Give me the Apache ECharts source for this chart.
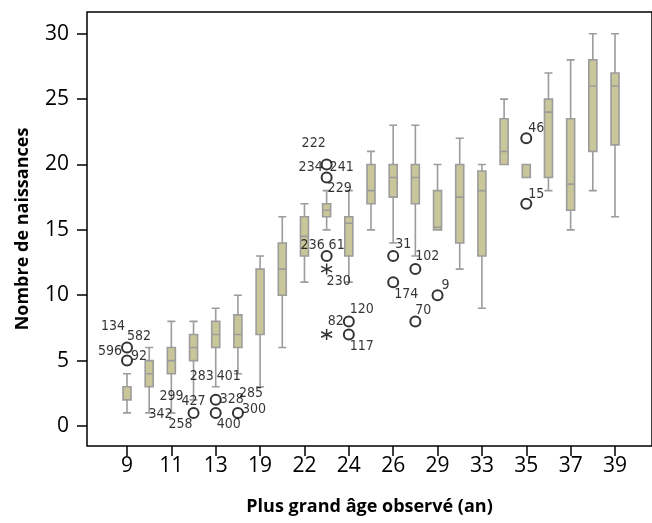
<!DOCTYPE html>
<html>
<head>
<meta charset="utf-8">
<script src="https://cdn.jsdelivr.net/npm/echarts@6/dist/echarts.min.js"></script>
<style>html,body{margin:0;padding:0;background:#fff}#c{width:652px;height:523px}</style>
</head>
<body>
<div id="c"></div>
<script>
// Categories: highest observed age (years)
var categories = ['9','10','11','12','13','14','19','20','22','23','24','25','26','27','29','30','33','34','35','36','37','38','39'];
// Box statistics: [min, Q1, median, Q3, max]
var boxData = [
  [1, 2, 2, 3, 4],
  [1, 3, 4, 5, 6],
  [1, 4, 5, 6, 8],
  [2, 5, 6, 7, 8],
  [3, 6, 7, 8, 9],
  [4, 6, 7, 8.5, 10],
  [3, 7, 7, 12, 13],
  [6, 10, 12, 14, 16],
  [11, 13, 14.5, 16, 17],
  [15, 16, 16.5, 17, 18],
  [11, 13, 15.5, 16, 18],
  [15, 17, 18, 20, 21],
  [14, 17.5, 19, 20, 23],
  [13, 17, 19, 20, 23],
  [15, 15, 15.2, 18, 20],
  [12, 14, 17.5, 20, 22],
  [9, 13, 18, 19.5, 20],
  [20, 20, 21, 23.5, 25],
  [19, 19, 20, 20, 20],
  [18, 19, 24, 25, 27],
  [15, 16.5, 18.5, 23.5, 28],
  [18, 21, 26, 28, 30],
  [16, 21.5, 26, 27, 30]
];
// Outliers drawn as circles: [category index, value]
var outlierCircles = [
  [0, 6], [0, 5], [3, 1], [4, 2], [4, 1], [5, 1],
  [9, 20], [9, 19], [9, 13], [10, 8], [10, 7],
  [12, 13], [12, 11], [13, 12], [13, 8], [14, 10],
  [18, 22], [18, 17]
];
// Extreme values drawn as asterisks: [category index, value]
var extremeStars = [[9, 12], [9, 7]];
// Case labels: [category index, value, case id]
var caseLabels = [
  [0, 6, '134'], [0, 6, '582'], [0, 6, '596'], [0, 5, '92'],
  [3, 1, '342'], [3, 1, '299'], [3, 1, '258'], [3, 1, '427'],
  [4, 2, '283'], [4, 2, '401'], [4, 2, '328'], [4, 1, '400'],
  [5, 1, '285'], [5, 1, '300'],
  [9, 20, '222'], [9, 20, '234'], [9, 20, '241'], [9, 19, '229'],
  [9, 13, '236'], [9, 13, '61'], [9, 12, '230'],
  [10, 8, '82'], [10, 8, '120'], [10, 7, '117'],
  [12, 13, '31'], [12, 11, '174'], [13, 12, '102'], [13, 8, '70'],
  [14, 10, '9'], [18, 22, '46'], [18, 17, '15']
];
var yTicks = [0, 5, 10, 15, 20, 25, 30];

// label placement (pixel offsets of label centre from the marker)
var labelOffsets = {
  '134': [-14, -21], '582': [12, -11], '596': [-17, 4], '92': [12, -4],
  '342': [-33, 1], '299': [-22, -17], '258': [-13, 11], '427': [0, -12],
  '283': [-14, -23], '401': [13, -23], '328': [16, 0], '400': [13, 11],
  '285': [13, -20], '300': [16, -4],
  '222': [-13, -21], '234': [-16, 3], '241': [15, 3], '229': [13, 11],
  '236': [-14, -11], '61': [10, -11], '230': [12, 12],
  '82': [-13, 0], '120': [13, -12], '117': [13, 12],
  '31': [10, -12], '174': [13, 12], '102': [12, -13], '70': [8, -11],
  '9': [8, -10], '46': [10, -10], '15': [10, -9]
};

var Y_MIN = -1.53, Y_MAX = 31.66;
var GRID_TOP = 12, GRID_BOTTOM = 77;
var narrow = "'Liberation Sans Narrow', 'DejaVu Sans Condensed', 'Roboto Condensed', sans-serif";
var mainFont = "'Open Sans', 'Noto Sans', sans-serif";

// box grid geometry: first box centre at 127px, last at 615px
var firstC = 127, lastC = 615;
var band = (lastC - firstC) / (categories.length - 1);
var boxLeft = firstC - band / 2;
var boxWidthPx = band * categories.length;

var chart = echarts.init(document.getElementById('c'), null, {renderer: 'canvas'});
chart.setOption({
  animation: false,
  backgroundColor: '#fff',
  grid: [
    {left: 87, top: GRID_TOP, right: -10, bottom: GRID_BOTTOM, show: true,
     borderColor: '#000', borderWidth: 1.5, backgroundColor: 'transparent'},
    {left: boxLeft, top: GRID_TOP, width: boxWidthPx, bottom: GRID_BOTTOM}
  ],
  xAxis: [
    {gridIndex: 0, type: 'value', min: 0, max: 1, position: 'bottom',
     axisLine: {show: false, onZero: false}, axisTick: {show: false}, axisLabel: {show: false}, splitLine: {show: false},
     name: 'Plus grand âge observé (an)', nameLocation: 'middle', nameGap: 52,
     nameTextStyle: {fontFamily: mainFont, fontWeight: 'bold', fontSize: 18, color: '#000'}},
    {gridIndex: 1, type: 'category', data: categories, boundaryGap: true, position: 'bottom',
     axisLine: {show: false, onZero: false},
     axisTick: {show: true, alignWithLabel: true, interval: 1, length: 10, lineStyle: {color: '#000', width: 1.5}},
     axisLabel: {interval: 1, margin: 10, fontFamily: mainFont, fontSize: 21, color: '#000'},
     splitLine: {show: false}}
  ],
  yAxis: [
    {gridIndex: 0, type: 'value', min: Y_MIN, max: Y_MAX,
     axisLine: {show: false, onZero: false},
     axisTick: {show: true, customValues: yTicks, length: 10, lineStyle: {color: '#000', width: 1.5}},
     axisLabel: {customValues: yTicks, margin: 18, fontFamily: mainFont, fontSize: 21, color: '#000'},
     splitLine: {show: false},
     name: 'Nombre de naissances', nameLocation: 'middle', nameGap: 55,
     nameTextStyle: {fontFamily: mainFont, fontWeight: 'bold', fontSize: 18, color: '#000'}},
    {gridIndex: 1, type: 'value', min: Y_MIN, max: Y_MAX, show: false, splitLine: {show: false}}
  ],
  series: [
    {type: 'boxplot', xAxisIndex: 1, yAxisIndex: 1, data: boxData, boxWidth: [8, 8],
     itemStyle: {color: '#c9c699', borderColor: '#9c9c9c', borderWidth: 1.6},
     emphasis: {disabled: true}},
    {type: 'scatter', xAxisIndex: 1, yAxisIndex: 1, data: outlierCircles,
     symbol: 'emptyCircle', symbolSize: 10,
     itemStyle: {color: '#000', borderColor: '#000', borderWidth: 2}, z: 5},
    {type: 'scatter', xAxisIndex: 1, yAxisIndex: 1, data: extremeStars,
     symbol: 'path://M5,0L5,10M0.67,2.5L9.33,7.5M0.67,7.5L9.33,2.5', symbolSize: 11,
     itemStyle: {color: 'none', borderColor: '#000', borderWidth: 1.5}, z: 5},
    {type: 'scatter', xAxisIndex: 1, yAxisIndex: 1, symbolSize: 0, silent: true, z: 6,
     data: caseLabels.map(function (d) {
       var off = labelOffsets[d[2]] || [0, 0];
       return {value: [d[0], d[1]], name: d[2],
         label: {show: true, formatter: d[2], position: 'inside', offset: off,
           align: 'center', verticalAlign: 'middle',
           fontFamily: narrow, fontSize: 14, color: '#000'}};
     })}
  ]
});
</script>
</body>
</html>
